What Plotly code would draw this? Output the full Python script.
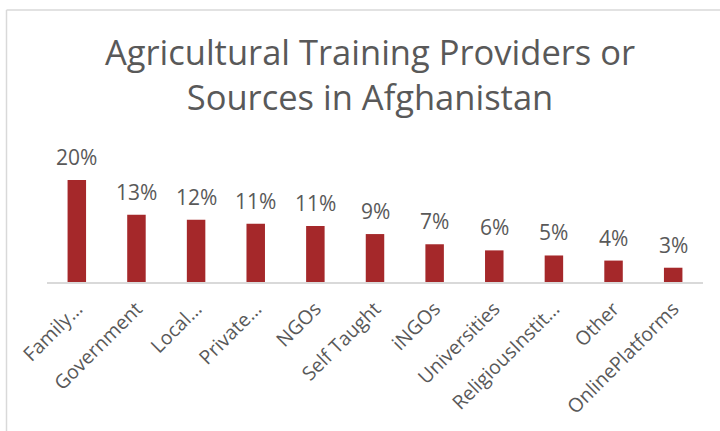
import plotly.graph_objects as go

categories = ["Family…", "Government", "Local…", "Private…", "NGOs", "Self Taught",
              "iNGOs", "Universities", "ReligiousInstit…", "Other", "OnlinePlatforms"]
values = [20.0, 13.2, 12.2, 11.4, 11.0, 9.4, 7.4, 6.2, 5.2, 4.2, 2.8]
labels = [f"{round(v)}%" for v in values]

BAR = "#A5282A"
TXT = "#595959"
FONT = "Open Sans"

W, H = 720, 431
ML, MR, MT, MB = 47, 17, 150, 149
PW, PH = W - ML - MR, H - MT - MB

fig = go.Figure(go.Bar(x=categories, y=values, marker_color=BAR, marker_line_width=0,
                       hoverinfo="skip"))

for c, v, t in zip(categories, values, labels):
    fig.add_annotation(x=c, y=v, text=t, showarrow=False, yanchor="bottom",
                       yshift=7, font=dict(family=FONT, size=21, color=TXT))

def px_x(X):
    return (X - ML) / PW

def px_y(Y):
    return (H - MB - Y) / PH

border = dict(color="#d9d9d9", width=1.5)
fig.add_shape(type="line", xref="paper", yref="paper", x0=px_x(6.5), x1=px_x(721),
              y0=px_y(10), y1=px_y(10), line=border)
fig.add_shape(type="line", xref="paper", yref="paper", x0=px_x(6.5), x1=px_x(6.5),
              y0=px_y(10), y1=px_y(432), line=border)

fig.update_layout(
    width=W, height=H,
    margin=dict(l=ML, r=MR, t=MT, b=MB, pad=0),
    paper_bgcolor="white", plot_bgcolor="white",
    bargap=0.69,
    showlegend=False,
    title=dict(text="Agricultural Training Providers or<br>Sources in Afghanistan",
               x=370 / W, xanchor="center", xref="container",
               y=1 - 65 / H, yanchor="top", yref="container",
               font=dict(family=FONT, size=34.5, color=TXT)),
    xaxis=dict(showline=True, linecolor="#d9d9d9", linewidth=1.5, ticks="",
               tickangle=-45, tickfont=dict(family=FONT, size=19.5, color=TXT),
               ticklabelstandoff=6,
               showgrid=False, zeroline=False),
    yaxis=dict(range=[0, PH / 5.1], visible=False, showgrid=False, zeroline=False),
)

fig.write_html("out.html", config={"displayModeBar": False})
